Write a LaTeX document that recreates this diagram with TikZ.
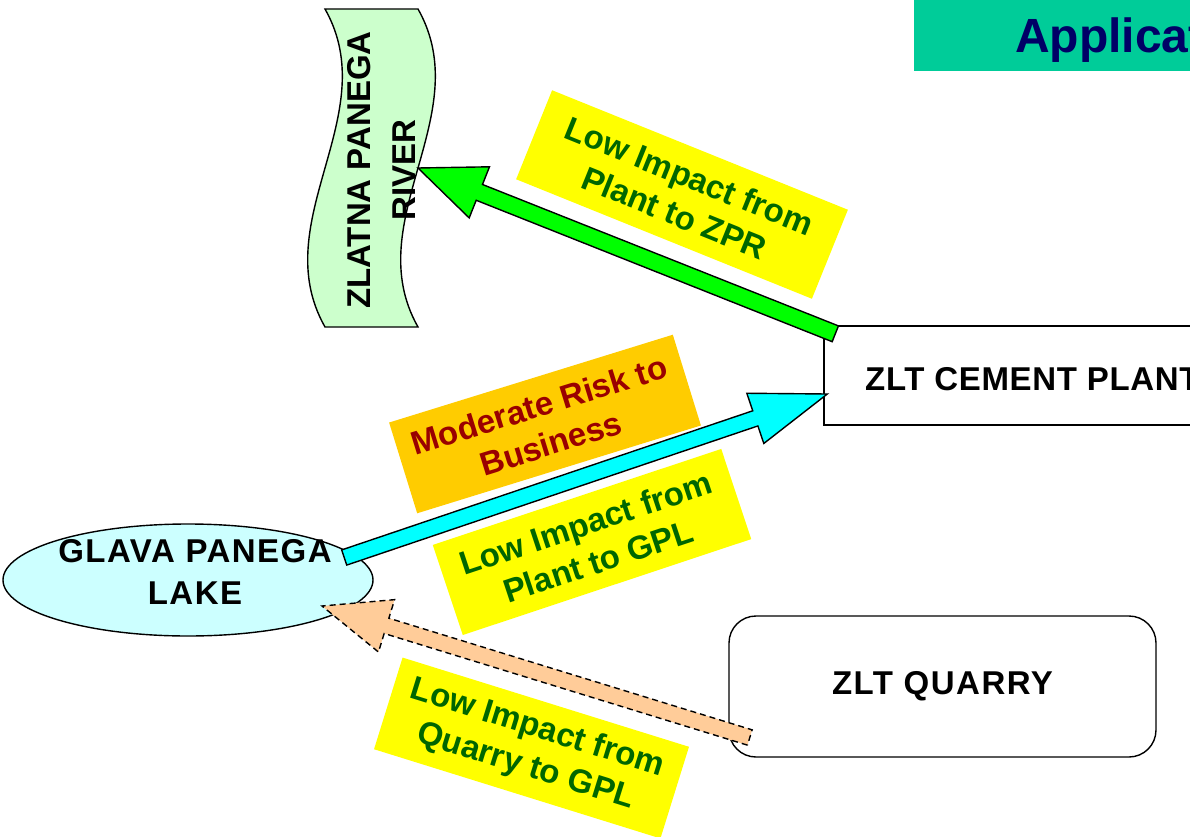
\documentclass[tikz,border=0pt]{standalone}
\usepackage{fontspec}
\setmainfont{Liberation Sans}
\newfontfamily\spacedfont[LetterSpace=4.5]{Liberation Sans}
\newfontfamily\lightspacedfont[LetterSpace=2]{Liberation Sans}
\usetikzlibrary{calc,shapes.geometric}
\definecolor{riverfill}{HTML}{CCFFCC}
\definecolor{lakefill}{HTML}{CCFFFF}
\definecolor{arrgreen}{HTML}{00FF00}
\definecolor{arrcyan}{HTML}{00FFFF}
\definecolor{arrpeach}{HTML}{FFCC99}
\definecolor{boxyellow}{HTML}{FFFF00}
\definecolor{boxorange}{HTML}{FFCC00}
\definecolor{txtgreen}{HTML}{006600}
\definecolor{txtred}{HTML}{990000}
\definecolor{titlefill}{HTML}{00CC99}
\definecolor{titletext}{HTML}{000066}
\newcommand{\blockarr}[7]{%
  \coordinate (#1h) at ($(#3)!#6!(#2)$);
  \draw[#7] ($(#2)!#4!90:(#3)$) -- ($(#1h)!#4!90:(#3)$) -- ($(#1h)!#5!90:(#3)$) -- (#3)
    -- ($(#1h)!#5!-90:(#3)$) -- ($(#1h)!#4!-90:(#3)$) -- ($(#2)!#4!-90:(#3)$) -- cycle;
}
\begin{document}
\begin{tikzpicture}[x=1pt,y=-1pt,
  lbl/.style={font=\fontsize{33}{40}\selectfont\bfseries, align=center, inner sep=0pt},
  blk/.style={font=\spacedfont\fontsize{33}{42}\selectfont\bfseries, align=center, inner sep=0pt},
  tbox/.style={lbl, fill=boxyellow, text=txtgreen, minimum height=96pt},
  outline/.style={draw=black, line width=1.4pt},
  arrowstyle/.style={draw=black, line width=1.4pt, line join=miter}
]
\useasboundingbox (0,0) rectangle (1190,837);
\clip (0,0) rectangle (1190,837);

% title
\fill[titlefill] (914,0) rectangle (1200,71.5);
\node[anchor=base west, inner sep=0pt, text=titletext, font=\fontsize{48}{58}\selectfont\bfseries] (title) at (1015,53) {Application};

% river
\draw[outline, fill=riverfill] (325,9) .. controls (385,115) and (265,221) .. (325,327)
  -- (418,327) .. controls (358,221) and (478,115) .. (418,9) -- cycle;
\node[lbl, font=\fontsize{33}{45}\selectfont\bfseries, rotate=90] (rivertext) at (381,170) {ZLATNA PANEGA\\RIVER};
\coordinate (rivtip) at (418,168);

% cement plant
\node[outline, fill=white, minimum width=410pt, minimum height=99pt, inner sep=0pt] (plant) at (1029,375.5) {};
\node[blk, font=\lightspacedfont\fontsize{33}{42}\selectfont\bfseries, anchor=west] (planttext) at (865,379) {ZLT CEMENT PLANT};

% quarry
\node[outline, fill=white, rounded corners=27pt, minimum width=427pt, minimum height=141pt, inner sep=0pt, blk] (quarry) at (942.5,686.5) {ZLT QUARRY};

% lake
\node[outline, fill=lakefill, ellipse, minimum width=370pt, minimum height=112pt, inner sep=0pt] (lake) at (188,580) {};
\node[blk] (laketext) at (195,572) {GLAVA PANEGA\\LAKE};

% label boxes
\node[tbox, minimum width=319pt, rotate=-22] (lbl1) at (682,194.5) {Low Impact from\\Plant to ZPR};
\node[lbl, fill=boxorange, text=txtred, minimum width=297pt, minimum height=95pt, rotate=17.2] (lbl2) at (545,424) {Moderate Risk to\\Business};
\node[tbox, minimum width=304pt, minimum height=95pt, rotate=18.4] (lbl3) at (592,542) {Low Impact from\\Plant to GPL};
\node[tbox, minimum width=300pt, rotate=-17.3] (lbl4) at (531.5,748) {Low Impact from\\Quarry to GPL};

% arrows
\coordinate (gtail) at ($(plant.north west)+(12,8.5)$);
\blockarr{g}{gtail}{rivtip}{8.5pt}{27.5pt}{66pt}{arrowstyle, fill=arrgreen}

\coordinate (ctail) at ($(lake.east)+(-29.5,-22.5)$);
\coordinate (ctip) at ($(plant.west)+(4,18.5)$);
\blockarr{c}{ctail}{ctip}{8pt}{26.5pt}{76pt}{arrowstyle, fill=arrcyan}

\coordinate (ptail) at ($(quarry.west)+(21.5,51)$);
\coordinate (ptip) at ($(lake.center)+(134,26)$);
\blockarr{p}{ptail}{ptip}{8pt}{27.4pt}{67.5pt}{arrowstyle, fill=arrpeach, dash pattern=on 6pt off 4pt}
\end{tikzpicture}
\end{document}
